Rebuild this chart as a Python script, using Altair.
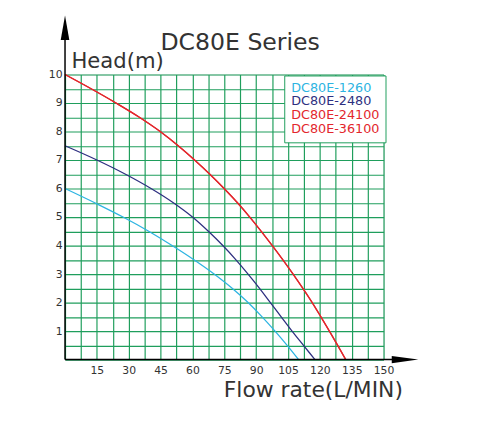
import pandas as pd
import altair as alt

# Series names and colours (24100 and 36100 share the red curve)
models = ['DC80E-1260', 'DC80E-2480', 'DC80E-24100', 'DC80E-36100']
model_colors = ['#2db4e2', '#2e2f80', '#e3262c', '#e3262c']

# Flow rate (L/MIN) vs head (m)
flow_1260 = [0, 14, 27.3, 39.4, 50.4, 60.7, 70.2, 78.7, 86.2, 92.8, 98.9, 104.6, 110]
head_1260 = [6, 5.5, 5, 4.5, 4, 3.5, 3, 2.5, 2, 1.5, 1, 0.5, 0]

flow_2480 = [0, 15, 28.5, 40.5, 51, 60, 67.5, 74.3, 80.5, 86.2, 91.6, 96.7, 101.8,
             106.9, 112.3, 117.7]
head_2480 = [7.5, 7, 6.5, 6, 5.5, 5, 4.5, 4, 3.5, 3, 2.5, 2, 1.5, 1, 0.5, 0]

flow_36100 = [0, 12.3, 24, 35, 44.8, 53.3, 61, 68.2, 74.9, 81.2, 87, 92.4, 97.6,
              102.6, 107.4, 112, 116.4, 120.5, 124.5, 128.4, 132.2]
head_36100 = [10, 9.5, 9, 8.5, 8, 7.5, 7, 6.5, 6, 5.5, 5, 4.5, 4, 3.5, 3, 2.5, 2,
              1.5, 1, 0.5, 0]

# Grid every half step, labels on the main values
x_grid = [i * 7.5 for i in range(21)]
y_grid = [i * 0.5 for i in range(21)]

chart_title = 'DC80E Series'

FONT = 'DejaVu Sans'
GREEN = '#1f9e5c'
TEXT = '#333333'

rows = []
for name, fl, hd in [('DC80E-1260', flow_1260, head_1260),
                     ('DC80E-2480', flow_2480, head_2480),
                     ('DC80E-24100', flow_36100, head_36100),
                     ('DC80E-36100', flow_36100, head_36100)]:
    for q, h in zip(fl, hd):
        rows.append({'model': name, 'flow': q, 'head': h})
curves_df = pd.DataFrame(rows)

x_scale = alt.Scale(domain=[0, 150], nice=False, zero=False)
y_scale = alt.Scale(domain=[0, 10], nice=False, zero=False)

label_expr = ("datum.value == 'DC80E-1260' ? '%s' : datum.value == 'DC80E-2480' ? '%s' : '%s'"
              % (model_colors[0], model_colors[1], model_colors[2]))

curves = alt.Chart(curves_df).mark_line(interpolate='monotone', strokeWidth=1.3).encode(
    x=alt.X('flow:Q', scale=x_scale,
            axis=alt.Axis(values=x_grid, tickCount=len(x_grid), grid=True, gridColor=GREEN,
                          gridWidth=1.2, gridOpacity=1, domain=False, ticks=False,
                          labelPadding=5, labelOverlap=False, labelFlush=False,
                          labelExpr="datum.value % 15 == 0 && datum.value > 0 ? format(datum.value, 'd') : ''",
                          labelFont=FONT, labelFontSize=11, labelColor=TEXT,
                          title='Flow rate(L/MIN)', titleFont=FONT, titleFontSize=22.2,
                          titleFontWeight='normal', titleColor=TEXT, titleAnchor='start',
                          titleAlign='left', titleBaseline='alphabetic', titleX=161,
                          titleY=38)),
    y=alt.Y('head:Q', scale=y_scale,
            axis=alt.Axis(values=y_grid, tickCount=len(y_grid), grid=True, gridColor=GREEN,
                          gridWidth=1.2, gridOpacity=1, domain=False, ticks=False,
                          labelPadding=3, labelOverlap=False,
                          labelExpr="datum.value % 1 == 0 && datum.value > 0 ? format(datum.value, 'd') : ''",
                          labelFont=FONT, labelFontSize=11, labelColor=TEXT,
                          title='Head(m)', titleFont=FONT, titleFontSize=21.5,
                          titleFontWeight='normal', titleColor=TEXT, titleAngle=0,
                          titleAlign='left', titleBaseline='alphabetic', titleX=6,
                          titleY=-7)),
    color=alt.Color('model:N', scale=alt.Scale(domain=models, range=model_colors),
                    legend=alt.Legend(title=None, orient='none', legendX=223, legendY=1,
                                      fillColor='white', strokeColor=GREEN,
                                      padding=6, rowPadding=0, symbolSize=0,
                                      symbolOpacity=0, symbolStrokeWidth=0,
                                      labelOffset=alt.ExprRef('-12'), labelFont=FONT,
                                      labelFontSize=13, labelLimit=200,
                                      labelColor=alt.ExprRef(label_expr))),
    detail='model:N'
)

# Axis lines with arrow heads
x_axis_df = pd.DataFrame({'x': [0], 'x2': [154.5], 'y': [0]})
y_axis_df = pd.DataFrame({'x': [0], 'y': [0], 'y2': [11.5]})
x_arrow_df = pd.DataFrame({'x': [160.1], 'y': [0]})
y_arrow_df = pd.DataFrame({'x': [0], 'y': [11.64]})

x_axis = alt.Chart(x_axis_df).mark_rule(color='black', strokeWidth=1.5).encode(
    x=alt.X('x:Q', scale=x_scale), x2='x2:Q', y=alt.Y('y:Q', scale=y_scale))
y_axis = alt.Chart(y_axis_df).mark_rule(color='black', strokeWidth=1.5).encode(
    x=alt.X('x:Q', scale=x_scale), y=alt.Y('y:Q', scale=y_scale), y2='y2:Q')
x_arrow = alt.Chart(x_arrow_df).mark_point(
    shape='M1,0L-1,-0.28L-1,0.28Z', size=729, filled=True, color='black', opacity=1
).encode(x=alt.X('x:Q', scale=x_scale), y=alt.Y('y:Q', scale=y_scale))
y_arrow = alt.Chart(y_arrow_df).mark_point(
    shape='M0,-1L0.35,1L-0.35,1Z', size=625, filled=True, color='black', opacity=1
).encode(x=alt.X('x:Q', scale=x_scale), y=alt.Y('y:Q', scale=y_scale))

# Series title, placed just right of the "Head(m)" axis title
title_text = alt.Chart(pd.DataFrame({'t': [chart_title]})).mark_text(
    align='left', baseline='alphabetic', font=FONT, fontSize=24, color=TEXT
).encode(text='t:N', x=alt.value(97), y=alt.value(-25))

chart = alt.layer(curves, x_axis, y_axis, x_arrow, y_arrow, title_text).properties(
    width=324, height=290,
    padding={'left': 58, 'top': 64, 'right': 92, 'bottom': 70},
    autosize=alt.AutoSizeParams(type='none')
).configure_view(strokeWidth=0).configure(background='white')

chart.save('out.html', embed_options={'renderer': 'svg', 'actions': False})
